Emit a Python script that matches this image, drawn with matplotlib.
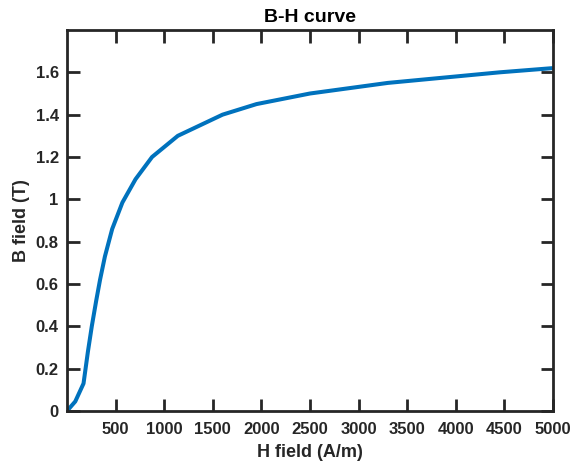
import matplotlib
matplotlib.use("Agg")
import matplotlib.pyplot as plt

H = [0, 85, 170, 215, 255, 300, 340, 390, 465, 570, 705, 875, 1140, 1600, 1950, 2500, 3300, 4450, 5000]
B = [0, 0.045, 0.13, 0.28, 0.40, 0.52, 0.62, 0.73, 0.86, 0.985, 1.095, 1.20, 1.30, 1.40, 1.45, 1.50, 1.55, 1.60, 1.62]
xticks = [500, 1000, 1500, 2000, 2500, 3000, 3500, 4000, 4500, 5000]
yticks = [0, 0.2, 0.4, 0.6, 0.8, 1.0, 1.2, 1.4, 1.6]
ytick_labels = ["0", "0.2", "0.4", "0.6", "0.8", "1", "1.2", "1.4", "1.6"]

plt.rcParams['font.family'] = ['Liberation Sans', 'DejaVu Sans']
plt.rcParams['font.weight'] = 'bold'
dark = '#262626'

fig = plt.figure(figsize=(5.76, 4.69), dpi=100)
ax = fig.add_axes([67/576, 58/469, (553-67)/576, (411-30)/469])
ax.plot(H, B, color='#0072BD', linewidth=2.9, solid_capstyle='butt', solid_joinstyle='round')
ax.set_xlim(0, 5000)
ax.set_ylim(0, 1.8)
ax.set_xticks(xticks)
ax.set_yticks(yticks)
ax.set_yticklabels(ytick_labels)
for s in ax.spines.values():
    s.set_linewidth(2.0)
    s.set_color(dark)
ax.tick_params(direction='in', length=9, width=2.0, colors=dark, labelsize=12,
               top=True, right=True, pad=8)
ax.tick_params(axis='y', pad=6)
for lab in ax.get_xticklabels() + ax.get_yticklabels():
    lab.set_fontweight('bold')
ax.set_xlabel('H field (A/m)', fontsize=13, fontweight='bold', color=dark, labelpad=5)
ax.set_ylabel('B field (T)', fontsize=13, fontweight='bold', color=dark, labelpad=4)
ax.set_title('B-H curve', fontsize=14, fontweight='bold', color='black', pad=6)
fig.savefig('out.png', dpi=100)
